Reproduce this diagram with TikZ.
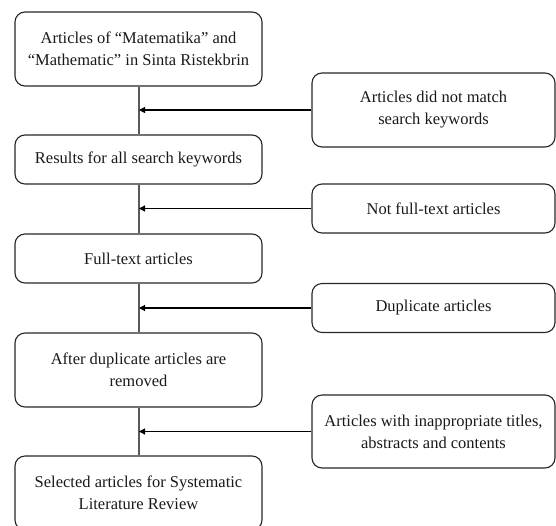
\documentclass[tikz,border=0pt]{standalone}
\usepackage{fontspec}
\setmainfont{Liberation Serif}
\usetikzlibrary{arrows.meta}
\begin{document}
\begin{tikzpicture}[x=1pt,y=-1pt,
  box/.style={draw=black!85, line width=1.1pt, rounded corners=10pt, inner sep=0pt,
    minimum width=247pt, align=center, text=black!90, font=\fontsize{16.5}{22}\selectfont},
  rbox/.style={box, minimum width=243pt},
  flow/.style={draw=black!65, line width=2pt},
  side/.style={draw=black, line width=1.2pt, -{Triangle[length=6pt,width=6pt]}}]
\useasboundingbox (0,0) rectangle (556,525);
\clip (0,0) rectangle (556,525);
% main column
\node[box, minimum height=74pt] (b1) at (138.5,49) {Articles of “Matematika” and\\“Mathematic” in Sinta Ristekbrin};
\node[box, minimum height=49pt] (b2) at (138.5,159.5) {Results for all search keywords};
\node[box, minimum height=49pt] (b3) at (138.5,258.5) {Full-text articles};
\node[box, minimum height=74pt] (b4) at (138.5,370) {After duplicate articles are\\removed};
\node[box, minimum height=74pt] (b5) at (138.5,493) {Selected articles for Systematic\\Literature Review};
% side boxes
\node[rbox, minimum height=74pt] (r1) at (433.5,110) {Articles did not match\\search keywords};
\node[rbox, minimum height=49pt] (r2) at (433.5,208.5) {Not full-text articles};
\node[rbox, minimum height=49pt] (r3) at (433.5,308) {Duplicate articles};
\node[rbox, minimum height=73pt] (r4) at (433.5,431.5) {Articles with inappropriate titles,\\abstracts and contents};
% junctions on the flow line
\coordinate (j1) at (139,110);
\coordinate (j2) at (139,208.5);
\coordinate (j3) at (139,308);
\coordinate (j4) at (139,431.5);
% vertical flow
\draw[flow] (b1.south) -- (b2.north);
\draw[flow] (b2.south) -- (b3.north);
\draw[flow] (b3.south) -- (b4.north);
\draw[flow] (b4.south) -- (b5.north);
% side arrows
\draw[side] (r1.west) -- (j1);
\draw[side] (r2.west) -- (j2);
\draw[side] (r3.west) -- (j3);
\draw[side] (r4.west) -- (j4);
\end{tikzpicture}
\end{document}
